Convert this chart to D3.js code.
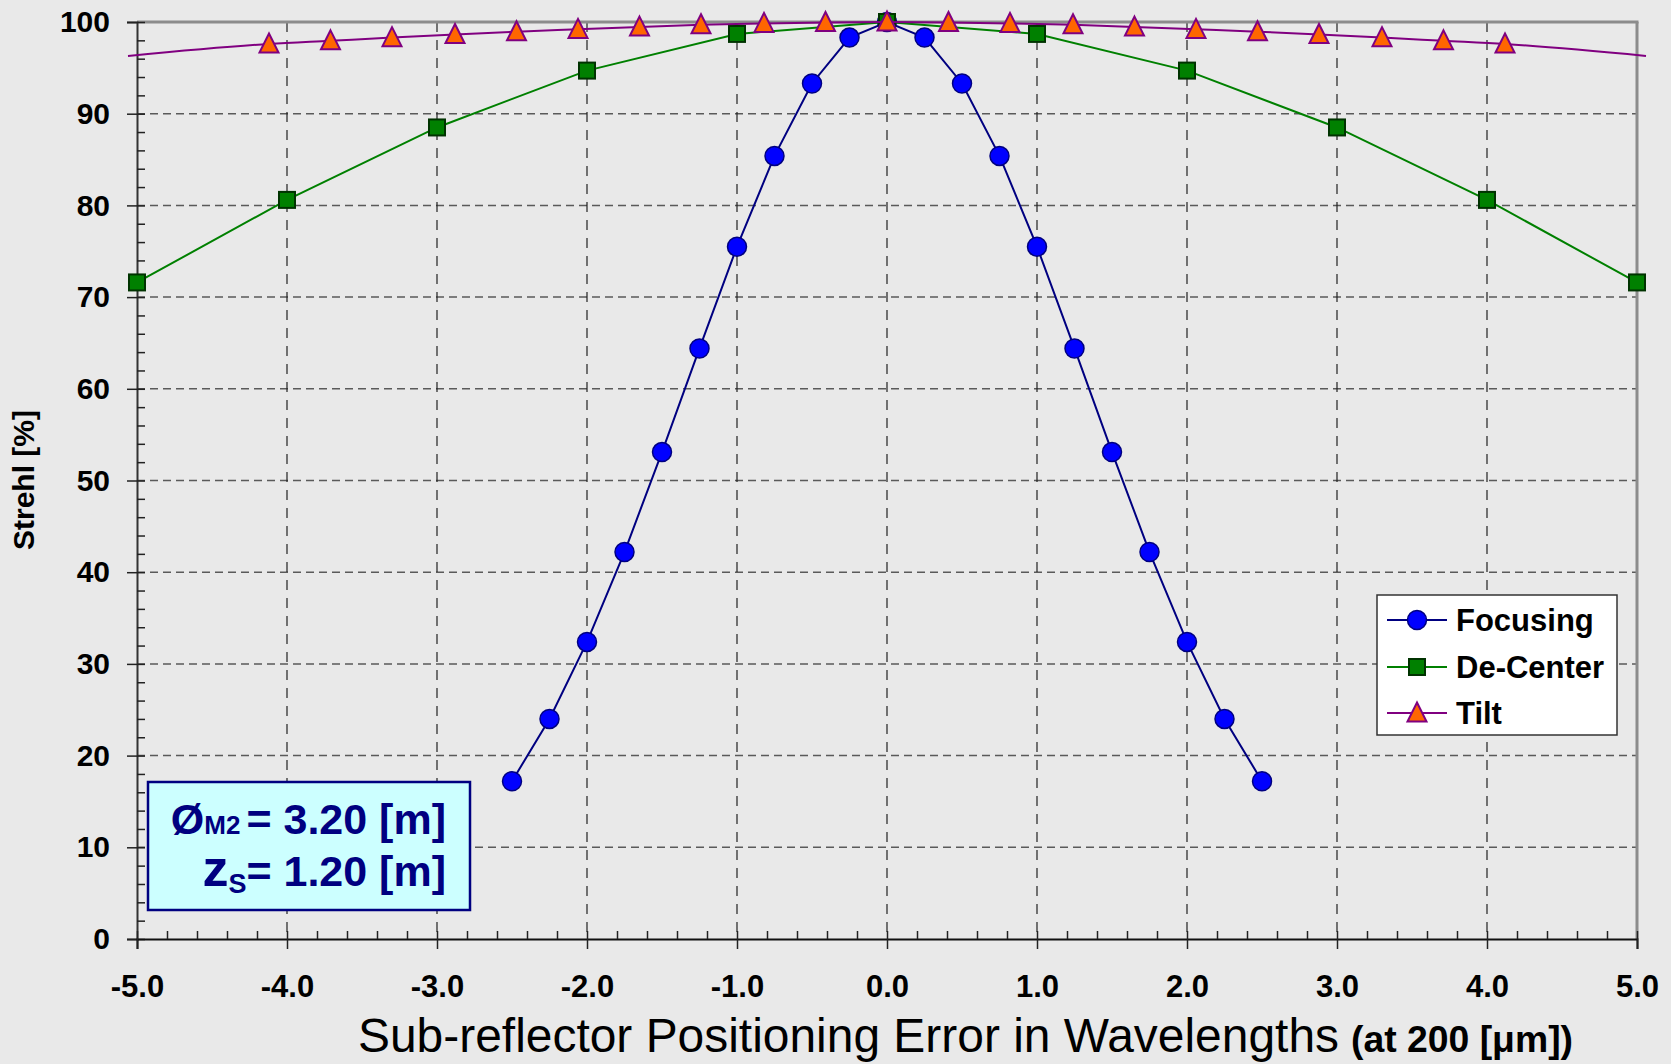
<!DOCTYPE html>
<html>
<head>
<meta charset="utf-8">
<script src="https://cdn.jsdelivr.net/npm/d3@7"></script>
<style>
  html, body { margin: 0; padding: 0; background: #e9e9e9; }
  svg { display: block; font-family: "Liberation Sans", Arial, sans-serif; }
</style>
</head>
<body>
<svg id="chart" width="1671" height="1064"></svg>
<script>
// ---------------- data ----------------
const focusX = [-2.5, -2.25, -2.0, -1.75, -1.5, -1.25, -1.0, -0.75, -0.5, -0.25, 0, 0.25, 0.5, 0.75, 1.0, 1.25, 1.5, 1.75, 2.0, 2.25, 2.5];
const focusY = [17.2, 24.0, 32.4, 42.2, 53.1, 64.4, 75.5, 85.4, 93.3, 98.3, 100, 98.3, 93.3, 85.4, 75.5, 64.4, 53.1, 42.2, 32.4, 24.0, 17.2];

const decenterX = [-5, -4, -3, -2, -1, 0, 1, 2, 3, 4, 5];
const decenterY = [71.6, 80.6, 88.5, 94.7, 98.7, 100, 98.7, 94.7, 88.5, 80.6, 71.6];

const tiltX = [-4.12, -3.71, -3.30, -2.88, -2.47, -2.06, -1.65, -1.24, -0.82, -0.41, 0, 0.41, 0.82, 1.24, 1.65, 2.06, 2.47, 2.88, 3.30, 3.71, 4.12];
const tiltY = [97.6, 97.95, 98.3, 98.65, 98.95, 99.2, 99.45, 99.7, 99.85, 99.95, 100, 99.95, 99.85, 99.7, 99.45, 99.2, 98.95, 98.65, 98.3, 97.95, 97.6];
// line continues (without markers) to the chart edges
const tiltEndX = [-5.06, 5.06];
const tiltEndY = [96.3, 96.3];

const seriesNames = ["Focusing", "De-Center", "Tilt"];

const xTicks = [-5, -4, -3, -2, -1, 0, 1, 2, 3, 4, 5];
const xTickLabels = ["-5.0", "-4.0", "-3.0", "-2.0", "-1.0", "0.0", "1.0", "2.0", "3.0", "4.0", "5.0"];
const xMinorTicks = d3.range(-50, 51, 2).map(d => d / 10);
const yTicks = [0, 10, 20, 30, 40, 50, 60, 70, 80, 90, 100];
const yTickLabels = ["0", "10", "20", "30", "40", "50", "60", "70", "80", "90", "100"];
const yMinorTicks = d3.range(0, 101, 2);

// ---------------- layout ----------------
const L = 137, R = 1637, T = 22, B = 939;
const svg = d3.select("#chart");
svg.append("rect").attr("width", 1671).attr("height", 1064).attr("fill", "#e9e9e9");

const x = d3.scaleLinear().domain([-5, 5]).range([L, R]);
const y = d3.scaleLinear().domain([0, 100]).range([B, T]);

// gridlines
const grid = svg.append("g");
grid.selectAll(".hg").data(yTicks.filter(d => d > 0 && d < 100)).join("line")
  .attr("x1", L).attr("x2", R).attr("y1", d => y(d)).attr("y2", d => y(d))
  .attr("stroke", "#5a5a5a").attr("stroke-width", 1.5).attr("stroke-dasharray", "8,5");
grid.selectAll(".vg").data(xTicks.filter(d => d > -5 && d < 5)).join("line")
  .attr("x1", d => x(d)).attr("x2", d => x(d)).attr("y1", T).attr("y2", B)
  .attr("stroke", "#222").attr("stroke-width", 1.2).attr("stroke-dasharray", "10,8");

// frame top/right
svg.append("line").attr("x1", L).attr("x2", R + 1.5).attr("y1", T).attr("y2", T)
  .attr("stroke", "#8c8c8c").attr("stroke-width", 3);
svg.append("line").attr("x1", R).attr("x2", R).attr("y1", T).attr("y2", B)
  .attr("stroke", "#8c8c8c").attr("stroke-width", 3);

// axes
const fmtX = (d) => xTickLabels[xTicks.indexOf(d)];
const fmtY = (d) => yTickLabels[yTicks.indexOf(d)];

const yAxis = svg.append("g").attr("transform", `translate(${L},0)`)
  .call(d3.axisLeft(y).tickValues(yTicks).tickSize(10).tickPadding(17).tickFormat(fmtY));
yAxis.select(".domain").attr("stroke", "#333").attr("stroke-width", 2);
yAxis.selectAll(".tick line").attr("stroke", "#222").attr("stroke-width", 1.5);
yAxis.selectAll(".tick text").attr("font-size", 30).attr("font-weight", "bold").attr("fill", "#000")
  .attr("font-family", "Liberation Sans, Arial, sans-serif");

const yMinor = svg.append("g").attr("transform", `translate(${L},0)`)
  .call(d3.axisRight(y).tickValues(yMinorTicks).tickSize(8).tickFormat(""));
yMinor.select(".domain").remove();
yMinor.selectAll(".tick line").attr("stroke", "#222").attr("stroke-width", 1.5);

const xAxis = svg.append("g").attr("transform", `translate(0,${B})`)
  .call(d3.axisBottom(x).tickValues(xTicks).tickSize(10).tickPadding(26).tickFormat(fmtX));
xAxis.select(".domain").attr("stroke", "#111").attr("stroke-width", 2);
xAxis.selectAll(".tick line").attr("stroke", "#222").attr("stroke-width", 1.5);
xAxis.selectAll(".tick text").attr("font-size", 31).attr("font-weight", "bold").attr("fill", "#000")
  .attr("font-family", "Liberation Sans, Arial, sans-serif");

const xMinor = svg.append("g").attr("transform", `translate(0,${B})`)
  .call(d3.axisTop(x).tickValues(xMinorTicks).tickSize(8).tickFormat(""));
xMinor.select(".domain").remove();
xMinor.selectAll(".tick line").attr("stroke", "#222").attr("stroke-width", 1.5);

// axis titles
svg.append("text").attr("transform", "translate(34,480) rotate(-90)")
  .attr("text-anchor", "middle").attr("font-size", 30).attr("font-weight", "bold")
  .text("Strehl [%]");

svg.append("text").attr("x", 358).attr("y", 1052).attr("font-size", 48)
  .attr("textLength", 981).attr("lengthAdjust", "spacingAndGlyphs")
  .text("Sub-reflector Positioning Error in Wavelengths");
svg.append("text").attr("x", 1351).attr("y", 1052).attr("font-size", 37).attr("font-weight", "bold")
  .attr("textLength", 222).attr("lengthAdjust", "spacingAndGlyphs")
  .text("(at 200 [\u03bcm])");

// series
const line = d3.line().x(d => x(d[0])).y(d => y(d[1]));
const focusPts = focusX.map((d, i) => [d, focusY[i]]);
const decPts = decenterX.map((d, i) => [d, decenterY[i]]);
const tiltPts = tiltX.map((d, i) => [d, tiltY[i]]);
const tiltLinePts = [[tiltEndX[0], tiltEndY[0]], ...tiltPts, [tiltEndX[1], tiltEndY[1]]];

const triPath = (s) => `M0,${-s * 0.55}L${s / 2},${s * 0.45}L${-s / 2},${s * 0.45}Z`;

// Focusing
svg.append("path").datum(focusPts).attr("d", line).attr("fill", "none")
  .attr("stroke", "#000080").attr("stroke-width", 2);
svg.append("g").selectAll("circle").data(focusPts).join("circle")
  .attr("cx", d => x(d[0])).attr("cy", d => y(d[1])).attr("r", 9.5)
  .attr("fill", "#0000ff").attr("stroke", "#000080").attr("stroke-width", 1.5);

// De-Center
svg.append("path").datum(decPts).attr("d", line).attr("fill", "none")
  .attr("stroke", "#008000").attr("stroke-width", 2);
svg.append("g").selectAll("rect").data(decPts).join("rect")
  .attr("x", d => x(d[0]) - 8).attr("y", d => y(d[1]) - 8).attr("width", 16).attr("height", 16)
  .attr("fill", "#008000").attr("stroke", "#003300").attr("stroke-width", 2);

// Tilt
svg.append("path").datum(tiltLinePts).attr("d", d3.line().curve(d3.curveMonotoneX).x(d => x(d[0])).y(d => y(d[1])))
  .attr("fill", "none").attr("stroke", "#800080").attr("stroke-width", 2);
svg.append("g").selectAll("path").data(tiltPts).join("path")
  .attr("transform", d => `translate(${x(d[0])},${y(d[1])})`)
  .attr("d", triPath(19)).attr("fill", "#ff6600").attr("stroke", "#800080").attr("stroke-width", 2);

// legend
const lg = svg.append("g");
lg.append("rect").attr("x", 1377).attr("y", 595).attr("width", 240).attr("height", 140)
  .attr("fill", "#fff").attr("stroke", "#333").attr("stroke-width", 1.5);
const legendRows = [
  { name: seriesNames[0], color: "#000080", y: 620 },
  { name: seriesNames[1], color: "#008000", y: 667 },
  { name: seriesNames[2], color: "#800080", y: 713 }
];
legendRows.forEach((r, i) => {
  lg.append("line").attr("x1", 1387).attr("x2", 1447).attr("y1", r.y).attr("y2", r.y)
    .attr("stroke", r.color).attr("stroke-width", 2);
  if (i === 0) lg.append("circle").attr("cx", 1417).attr("cy", r.y).attr("r", 9.5)
    .attr("fill", "#0000ff").attr("stroke", "#000080").attr("stroke-width", 1.5);
  if (i === 1) lg.append("rect").attr("x", 1409).attr("y", r.y - 8).attr("width", 16).attr("height", 16)
    .attr("fill", "#008000").attr("stroke", "#003300").attr("stroke-width", 2);
  if (i === 2) lg.append("path").attr("transform", `translate(1417,${r.y})`).attr("d", triPath(19))
    .attr("fill", "#ff6600").attr("stroke", "#800080").attr("stroke-width", 2);
  lg.append("text").attr("x", 1456).attr("y", r.y + 11).attr("font-size", 31).attr("font-weight", "bold")
    .text(r.name);
});

// annotation box
const ab = svg.append("g");
ab.append("rect").attr("x", 148).attr("y", 782).attr("width", 322).attr("height", 128)
  .attr("fill", "#ccffff").attr("stroke", "#000080").attr("stroke-width", 2.5);
const t1 = ab.append("text").attr("x", 446).attr("y", 834).attr("text-anchor", "end")
  .attr("font-weight", "bold").attr("fill", "#000080").attr("font-size", 43);
t1.append("tspan").text("\u00d8");
t1.append("tspan").attr("font-size", 26).text("M2");
t1.append("tspan").attr("dx", 6).text("= 3.20 [m]");
const t2 = ab.append("text").attr("x", 446).attr("y", 886).attr("text-anchor", "end")
  .attr("font-weight", "bold").attr("fill", "#000080").attr("font-size", 43);
t2.append("tspan").attr("font-size", 52).text("z");
t2.append("tspan").attr("font-size", 27).attr("dy", 7).text("S");
t2.append("tspan").attr("dy", -7).text("= 1.20 [m]");
</script>
</body>
</html>
